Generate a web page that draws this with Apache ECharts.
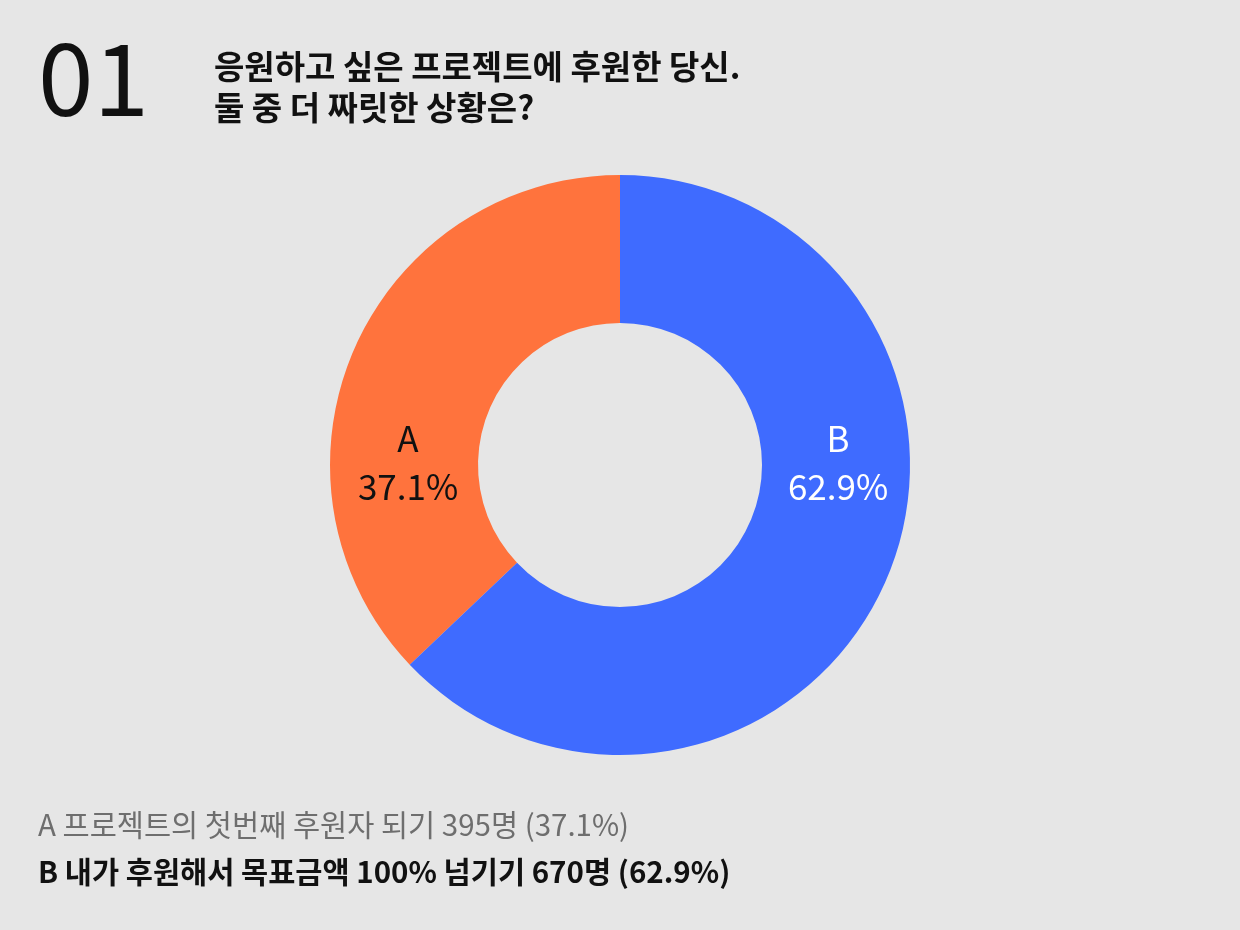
<!DOCTYPE html>
<html>
<head>
<meta charset="utf-8">
<script src="https://cdn.jsdelivr.net/npm/echarts@6/dist/echarts.min.js"></script>
<style>
  html, body { margin: 0; padding: 0; background: #e6e6e6; }
  #main { width: 1240px; height: 930px; }
</style>
</head>
<body>
<div id="main"></div>
<script>
// survey answers
let names = ['A', 'B'];
let counts = [395, 670];
let colors = ['#ff733d', '#3f6bff'];
let labelColors = ['#111111', '#ffffff'];
let answers = [
  'A 프로젝트의 첫번째 후원자 되기 395명 (37.1%)',
  'B 내가 후원해서 목표금액 100% 넘기기 670명 (62.9%)'
];
let question = ['응원하고 싶은 프로젝트에 후원한 당신.', '둘 중 더 짜릿한 상황은?'];

const FONT = '"Noto Sans CJK KR", "Noto Sans", sans-serif';
const inner = 142, outer = 290;

var myChart = echarts.init(document.getElementById('main'));

let data = names.map((n, i) => ({
  name: n,
  value: counts[i],
  itemStyle: { color: colors[i] },
  label: { color: labelColors[i] }
}));

option = {
  backgroundColor: '#e6e6e6',
  animation: false,
  graphic: [
    { type: 'text', left: 38, top: 28,
      style: { text: '01', font: 'normal 100px ' + FONT, fill: '#111' } },
    { type: 'text', left: 214, top: 50,
      style: { text: question[0], font: 'bold 33px ' + FONT, fill: '#111' } },
    { type: 'text', left: 214, top: 91,
      style: { text: question[1], font: 'bold 33px ' + FONT, fill: '#111' } },
    { type: 'text', left: 38, top: 810,
      style: { text: answers[0], font: 'normal 29.5px ' + FONT, fill: '#6e6e6e' } },
    { type: 'text', left: 38, top: 857,
      style: { text: answers[1], font: 'bold 29.5px ' + FONT, fill: '#111' } }
  ],
  series: [
    {
      name: 'answer',
      type: 'pie',
      center: ['50%', '50%'],
      radius: [inner, outer],
      startAngle: 90,
      clockwise: false,
      percentPrecision: 1,
      avoidLabelOverlap: false,
      label: {
        show: true,
        position: 'inside',
        formatter: '{b}\n{d}%',
        fontFamily: FONT,
        fontSize: 35,
        lineHeight: 48,
        align: 'center',
        verticalAlign: 'middle'
      },
      labelLine: { show: false },
      emphasis: { disabled: true },
      labelLayout: function (params) {
        // put labels level with the centre, half way through the ring
        let mid = (inner + outer) / 2;
        let cx = myChart.getWidth() / 2, cy = myChart.getHeight() / 2;
        return { x: params.dataIndex === 0 ? cx - mid + 4 : cx + mid + 2, y: cy - 2, align: 'center', verticalAlign: 'middle' };
      },
      data: data
    }
  ]
};

myChart.setOption(option);
</script>
</body>
</html>
